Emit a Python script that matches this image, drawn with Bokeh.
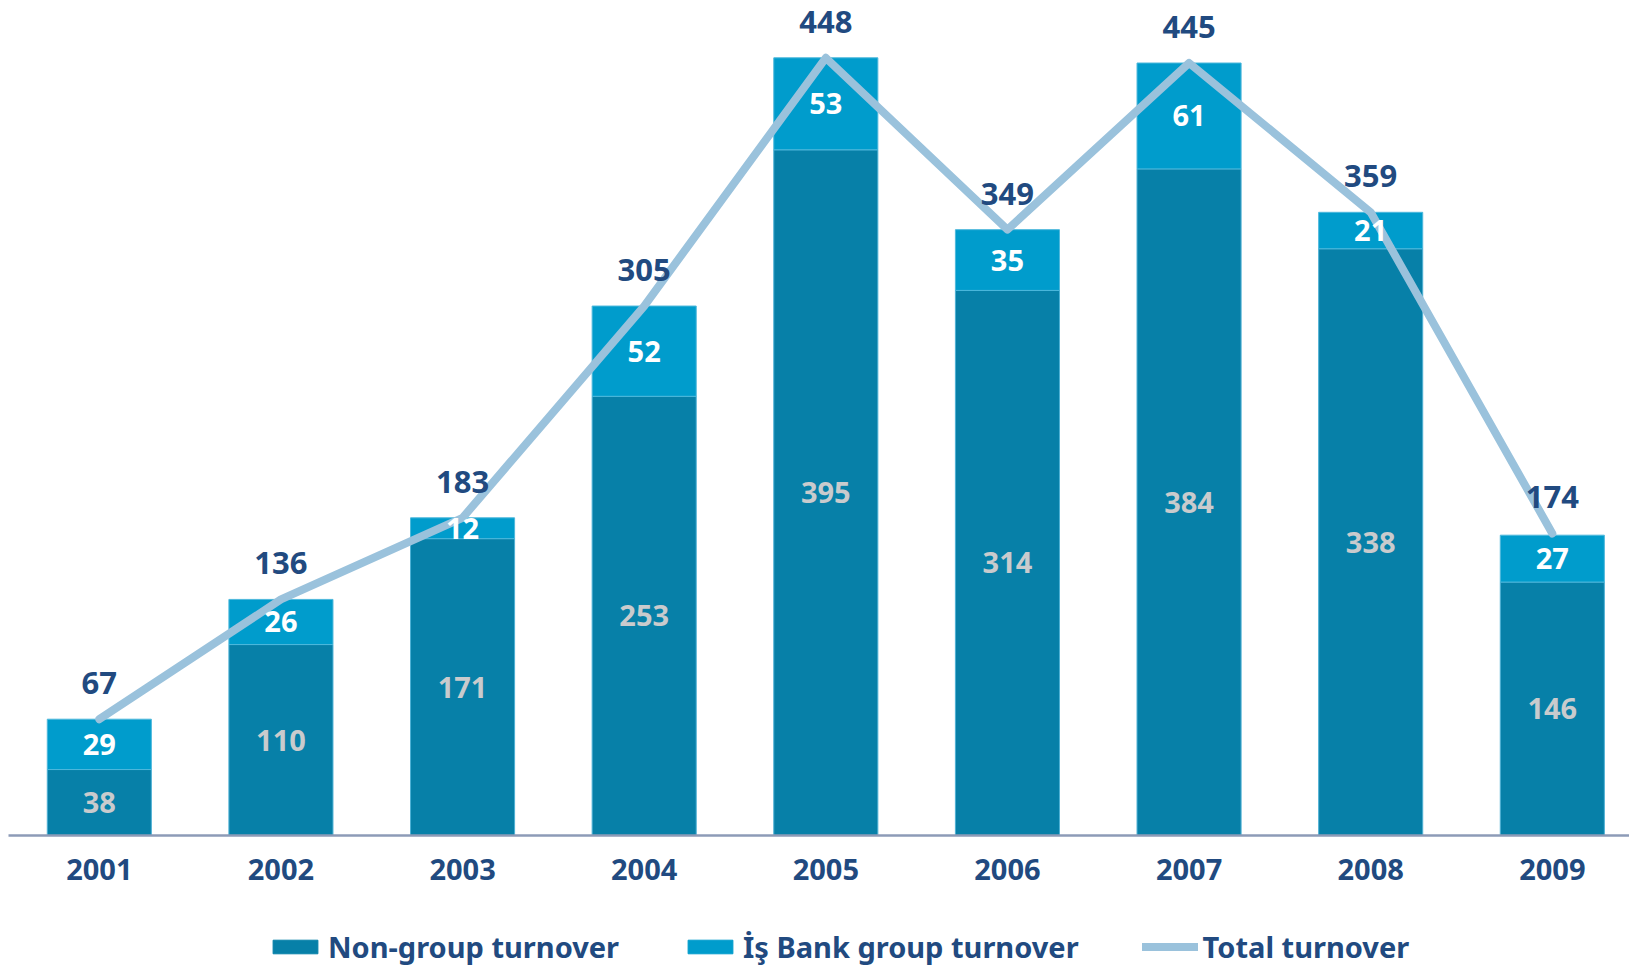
from bokeh.plotting import figure
from bokeh.layouts import column
from bokeh.models import ColumnDataSource, Range1d, FixedTicker, Legend, LegendItem, NumeralTickFormatter
from bokeh.core.properties import value
from bokeh.embed import file_html
from bokeh.resources import INLINE

years = [2001, 2002, 2003, 2004, 2005, 2006, 2007, 2008, 2009]
non_group = [38, 110, 171, 253, 395, 314, 384, 338, 146]
is_bank = [29, 26, 12, 52, 53, 35, 61, 21, 27]
total = [67, 136, 183, 305, 448, 349, 445, 359, 174]
series_names = ["Non-group turnover", "İş Bank group turnover", "Total turnover"]

DARK = "#0780A8"
LIGHT = "#009CCC"
LINE = "#9AC2DC"
NAVY = "#214A80"
FONT = "Noto Sans"

src = ColumnDataSource(dict(
    year=years,
    non_group=non_group,
    is_bank=is_bank,
    top=[a + b for a, b in zip(non_group, is_bank)],
    total=total,
    ng_mid=[a / 2 for a in non_group],
    ib_mid=[a + b / 2 for a, b in zip(non_group, is_bank)],
    ng_txt=[str(v) for v in non_group],
    ib_txt=[str(v) for v in is_bank],
    tot_txt=[str(v) for v in total],
))

p = figure(width=1629, height=900, output_backend="svg", toolbar_location=None,
           x_range=Range1d(2000.5, 2009.425), y_range=Range1d(0, 476.4),
           min_border_left=8, min_border_right=0, min_border_top=8, min_border_bottom=65,
           y_axis_location=None)
p.outline_line_color = None
p.xgrid.visible = False
p.ygrid.visible = False

bw = 0.573
r1 = p.vbar(x="year", bottom=0, top="non_group", width=bw, source=src,
            fill_color=DARK, line_color="#4DB0D4", line_width=1)
r2 = p.vbar(x="year", bottom="non_group", top="top", width=bw, source=src,
            fill_color=LIGHT, line_color="#4DB8DC", line_width=1)
r3 = p.line(x="year", y="total", source=src, line_color=LINE, line_width=8,
            line_cap="round", line_join="round")

p.text(x="year", y="ng_mid", text="ng_txt", source=src, text_align="center",
       text_baseline="middle", text_font=value(FONT), text_font_style="bold",
       text_font_size="29px", text_color="#C9CBCD")
p.text(x="year", y="ib_mid", text="ib_txt", source=src, text_align="center",
       text_baseline="middle", text_font=value(FONT), text_font_style="bold",
       text_font_size="29px", text_color="white")
p.text(x="year", y="total", text="tot_txt", source=src, text_align="center",
       text_baseline="middle", y_offset=-36, text_font=value(FONT), text_font_style="bold",
       text_font_size="31px", text_color=NAVY)

ax = p.xaxis[0]
ax.ticker = FixedTicker(ticks=years)
ax.formatter = NumeralTickFormatter(format="0")
ax.axis_line_color = "#8D9BB7"
ax.axis_line_width = 2.5
ax.major_tick_line_color = None
ax.minor_tick_line_color = None
ax.major_label_standoff = 17
ax.major_label_text_font = FONT
ax.major_label_text_font_style = "bold"
ax.major_label_text_font_size = "29px"
ax.major_label_text_color = NAVY

# legend strip (its renderers use the same data, kept outside its visible range)
p2 = figure(width=1629, height=66, output_backend="svg", toolbar_location=None,
            x_range=Range1d(0, 1), y_range=Range1d(0, 1),
            min_border_left=0, min_border_right=0, min_border_top=0, min_border_bottom=0,
            x_axis_location=None, y_axis_location=None)
p2.outline_line_color = None
p2.xgrid.visible = False
p2.ygrid.visible = False
l1 = p2.vbar(x="year", top="non_group", width=0.1, source=src, fill_color=DARK, line_color=DARK)
l2 = p2.vbar(x="year", top="is_bank", width=0.1, source=src, fill_color=LIGHT, line_color=LIGHT)
l3 = p2.line(x="year", y="total", source=src, line_color=LINE, line_width=8, line_cap="round")

legend = Legend(items=[
    LegendItem(label=series_names[0], renderers=[l1]),
    LegendItem(label=series_names[1], renderers=[l2]),
    LegendItem(label=series_names[2], renderers=[l3]),
], orientation="horizontal", location=(259, 0))
legend.glyph_width = 56
legend.glyph_height = 17
legend.label_standoff = 5
legend.spacing = 63
legend.padding = 0
legend.margin = 0
legend.border_line_color = None
legend.background_fill_alpha = 0
legend.label_text_font = FONT
legend.label_text_font_style = "bold"
legend.label_text_font_size = "29px"
legend.label_text_color = NAVY
p2.add_layout(legend)

layout = column(p, p2, spacing=0)
open("out.html", "w").write(file_html(layout, INLINE))
